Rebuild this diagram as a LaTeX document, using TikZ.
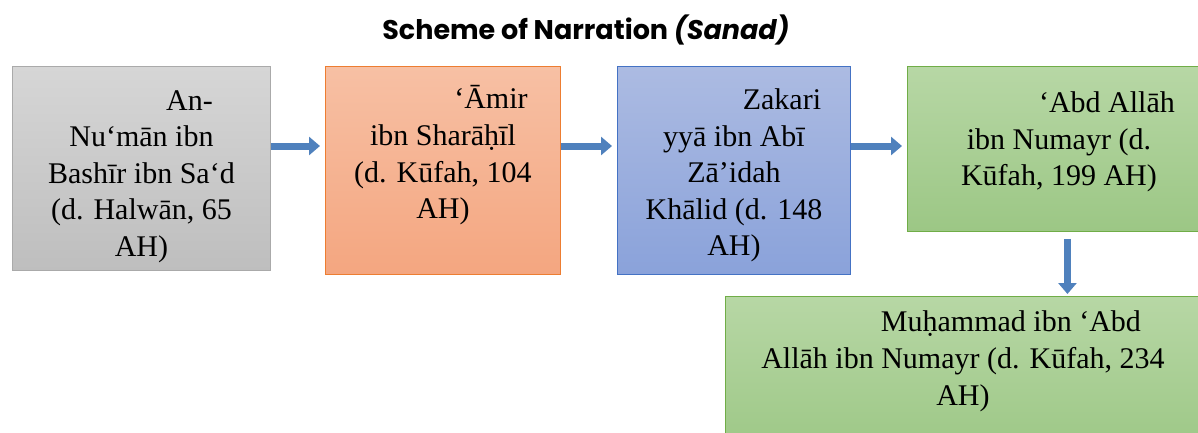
\documentclass[tikz,border=0pt]{standalone}
\usepackage{fontspec}
\setmainfont{Liberation Serif}
\newfontfamily\titlefont{Poppins}
\usetikzlibrary{arrows.meta}

\definecolor{greytop}{RGB}{214,214,214}
\definecolor{greybot}{RGB}{190,190,190}
\definecolor{greyline}{RGB}{170,170,170}
\definecolor{orangetop}{RGB}{247,192,164}
\definecolor{orangebot}{RGB}{244,166,128}
\definecolor{orangeline}{RGB}{237,125,49}
\definecolor{bluetop}{RGB}{172,187,226}
\definecolor{bluebot}{RGB}{138,162,218}
\definecolor{blueline}{RGB}{68,114,196}
\definecolor{greentop}{RGB}{183,215,165}
\definecolor{greenbot}{RGB}{156,199,133}
\definecolor{greenline}{RGB}{112,173,71}
\definecolor{arrowblue}{RGB}{79,129,189}

\begin{document}
\begin{tikzpicture}[x=1pt,y=-1pt,
    box/.style={draw, line width=0.9pt, align=center, anchor=north west, inner sep=0pt,
      text=black, font=\fontsize{30}{36.6}\selectfont},
    greybox/.style={box, draw=greyline, top color=greytop, bottom color=greybot},
    orangebox/.style={box, draw=orangeline, top color=orangetop, bottom color=orangebot},
    bluebox/.style={box, draw=blueline, top color=bluetop, bottom color=bluebot},
    greenbox/.style={box, draw=greenline, top color=greentop, bottom color=greenbot},
    fat/.style={line width=7pt, draw=arrowblue, -{Triangle[length=11pt,width=18pt]}}]
  \clip (0,0) rectangle (1198,432);
  \fill[white] (0,0) rectangle (1198,432);
  \def\ind{\hspace*{96pt}}

  \node[font=\titlefont\bfseries\fontsize{27}{32}\selectfont] (title) at (586,30)
    {Scheme of Narration \textit{(Sanad)}};

  \node[greybox, minimum width=258, minimum height=204] (nu) at (12,66)
    {\rule{0pt}{36pt}\ind An-\\Nu‘mān ibn\\Bashīr ibn Sa‘d\\(d. Halwān, 65\\AH)};
  \node[orangebox, minimum width=235, minimum height=208] (am) at (325,66)
    {\ind ‘Āmir\\ibn Sharāḥīl\\(d. Kūfah, 104\\AH)\\ \mbox{}};
  \node[bluebox, minimum width=233, minimum height=208] (za) at (617,66)
    {\rule{0pt}{31pt}\ind Zakari\\yyā ibn Abī\\Zā’idah\\Khālid (d. 148\\AH)};
  \node[greenbox, minimum width=303, minimum height=165] (ab) at (907,66)
    {\ind ‘Abd Allāh\\ibn Numayr (d.\\Kūfah, 199 AH)\\[-16pt]\mbox{}};
  \node[greenbox, minimum width=475, minimum height=160] (mu) at (725,296)
    {\ind Muḥammad ibn ‘Abd\\Allāh ibn Numayr (d. Kūfah, 234\\AH)\\ \mbox{}};

  % chain of narrators
  \foreach \a/\b in {nu/am, am/za, za/ab}
    \draw[fat, shorten >=5pt] ([yshift=-80pt]\a.north east) -- ([yshift=-80pt]\b.north west);
  \draw[fat, shorten <=7pt, shorten >=2pt] ([xshift=8.5pt]ab.south) -- ([xshift=8.5pt]ab.south |- mu.north);
\end{tikzpicture}
\end{document}
